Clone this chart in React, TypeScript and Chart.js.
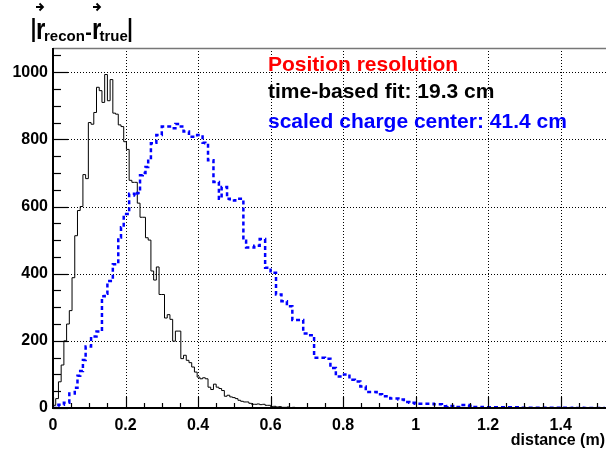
import React, { useEffect, useRef } from 'react';
import { Chart, registerables } from 'chart.js';
Chart.register(...registerables);

// ---- data ----
const BIN_WIDTH = 0.0075;
const X_MIN = 0;
const X_MAX = 1.525;
const Y_MIN = 0;
const Y_MAX = 1072;
const X_MAJOR = [0, 0.2, 0.4, 0.6, 0.8, 1.0, 1.2, 1.4];
const X_MINOR_STEP = 0.05;
const Y_MAJOR = [0, 200, 400, 600, 800, 1000];
const Y_MINOR_STEP = 50;

// time-based fit (black), counts per bin
const TIME_FIT = [
  8, 28, 78, 128, 200, 250, 290, 388, 513, 588,
  600, 695, 683, 850, 845, 880, 955, 945, 910, 993,
  915, 978, 878, 875, 843, 838, 793, 770, 678, 672,
  672, 610, 568, 568, 507, 500, 408, 381, 420, 338,
  338, 268, 278, 264, 199, 229, 229, 147, 157, 142,
  135, 122, 107, 92, 87, 90, 87, 62, 55, 71,
  62, 58, 52, 35, 38, 33, 31, 28, 23, 20,
  18, 18, 14, 11, 11, 12, 10, 11, 8, 8,
  4, 5, 3, 4, 2, 2, 3, 1, 2, 1,
  1, 0, 1, 1, 0, 0, 1, 0, 0, 0,
];

// scaled charge center (blue), counts per bin
const CHARGE_CENTER = [
  0, 5, 10, 10, 16, 16, 43, 43, 60, 96,
  110, 143, 183, 183, 213, 213, 228, 228, 333, 340,
  378, 378, 428, 428, 508, 538, 578, 578, 638, 638,
  633, 640, 693, 700, 718, 740, 788, 790, 813, 813,
  838, 838, 838, 833, 833, 846, 846, 838, 823, 823,
  808, 808, 808, 813, 813, 790, 788, 738, 738, 673,
  673, 623, 658, 658, 623, 618, 618, 623, 623, 623,
  498, 478, 478, 478, 483, 483, 503, 503, 418, 418,
  403, 403, 338, 338, 318, 318, 303, 303, 262, 262,
  262, 262, 222, 222, 217, 217, 150, 150, 150, 150,
  147, 147, 119, 119, 94, 94, 94, 100, 100, 84,
  84, 79, 79, 64, 64, 48, 48, 48, 48, 41,
  41, 35, 35, 35, 28, 28, 28, 25, 25, 18,
  18, 16, 16, 13, 13, 13, 13, 13, 13, 13,
  11, 11, 11, 5, 5, 6, 6, 6, 3, 3,
  9, 9, 9, 7, 7, 3, 3, 3, 2, 2,
  2, 2, 2, 2, 2, 2, 2, 2, 2, 2,
  2, 2, 1, 1, 1, 1, 1, 1, 1, 1,
  1, 1, 1, 1, 1, 1, 1, 0, 1, 0,
  0, 1, 0, 0, 1, 0, 0, 0, 0, 0,
  0, 0, 0,
];

const LEGEND_TITLE = 'Position resolution';
const LEGEND_TIME = 'time-based fit: 19.3 cm';
const LEGEND_CHARGE = 'scaled charge center: 41.4 cm';
const X_TITLE = 'distance (m)';

const FONT = '"Liberation Sans", Arial, Helvetica, sans-serif';

function toSteps(counts: number[]) {
  const pts = counts.map((v, i) => ({ x: i * BIN_WIDTH, y: v }));
  pts.push({ x: counts.length * BIN_WIDTH, y: 0 });
  return pts;
}

function range(min: number, max: number, step: number) {
  const out: number[] = [];
  const n = Math.round((max - min) / step);
  for (let i = 0; i <= n; i++) out.push(Math.round((min + i * step) * 1000) / 1000);
  return out;
}

const isMajor = (v: number, majors: number[]) => majors.some((m) => Math.abs(m - v) < 1e-6);

const rootPlugin = {
  id: 'rootStyle',
  beforeDatasetsDraw(chart: any) {
    const { ctx, chartArea: a, scales } = chart;
    const x = scales.x, y = scales.y;
    ctx.save();
    ctx.strokeStyle = '#000';
    ctx.lineWidth = 1;
    ctx.setLineDash([1, 2]);
    for (const v of X_MAJOR) {
      if (v <= X_MIN) continue;
      const px = Math.round(x.getPixelForValue(v)) + 0.5;
      ctx.beginPath();
      ctx.moveTo(px, a.top);
      ctx.lineTo(px, a.bottom);
      ctx.stroke();
    }
    for (const v of Y_MAJOR) {
      if (v <= Y_MIN) continue;
      const py = Math.round(y.getPixelForValue(v)) + 0.5;
      ctx.beginPath();
      ctx.moveTo(a.left, py);
      ctx.lineTo(a.right, py);
      ctx.stroke();
    }
    ctx.restore();
  },
  afterDatasetsDraw(chart: any) {
    const { ctx, chartArea: a, scales } = chart;
    const x = scales.x, y = scales.y;
    ctx.save();
    // top frame border
    ctx.strokeStyle = '#777';
    ctx.lineWidth = 1.5;
    ctx.beginPath();
    ctx.moveTo(a.left, a.top + 0.5);
    ctx.lineTo(a.right, a.top + 0.5);
    ctx.stroke();
    // ticks
    ctx.strokeStyle = '#000';
    ctx.lineWidth = 1.2;
    for (const v of range(Y_MIN, 1050, Y_MINOR_STEP)) {
      const py = Math.round(y.getPixelForValue(v)) + 0.5;
      const len = isMajor(v, Y_MAJOR) ? 15 : 8;
      ctx.beginPath();
      ctx.moveTo(a.left, py);
      ctx.lineTo(a.left + len, py);
      ctx.stroke();
    }
    for (const v of range(X_MIN, 1.5, X_MINOR_STEP)) {
      const px = Math.round(x.getPixelForValue(v)) + 0.5;
      const len = isMajor(v, X_MAJOR) ? 11 : 5;
      ctx.beginPath();
      ctx.moveTo(px, a.bottom);
      ctx.lineTo(px, a.bottom - len);
      ctx.stroke();
    }
    // axis lines
    ctx.lineWidth = 2;
    ctx.beginPath();
    ctx.moveTo(a.left, a.top);
    ctx.lineTo(a.left, a.bottom + 1);
    ctx.moveTo(a.left - 1, a.bottom);
    ctx.lineTo(a.right, a.bottom);
    ctx.stroke();
    ctx.restore();
  },
  afterDraw(chart: any) {
    const { ctx, chartArea: a } = chart;
    ctx.save();
    ctx.textBaseline = 'alphabetic';
    ctx.textAlign = 'left';
    // legend texts
    ctx.font = `bold 21px ${FONT}`;
    ctx.fillStyle = '#ff0000';
    ctx.fillText(LEGEND_TITLE, 268, 71);
    ctx.fillStyle = '#000000';
    ctx.fillText(LEGEND_TIME, 268, 98);
    ctx.fillStyle = '#0000ff';
    ctx.fillText(LEGEND_CHARGE, 268, 128);
    // x title
    ctx.fillStyle = '#000';
    ctx.textAlign = 'right';
    ctx.font = `bold 16px ${FONT}`;
    ctx.fillText(X_TITLE, a.right - 1, 445);
    // y title |r_recon - r_true|
    ctx.textAlign = 'left';
    ctx.strokeStyle = '#000';
    ctx.lineWidth = 2.5;
    ctx.beginPath();
    ctx.moveTo(33.5, 18);
    ctx.lineTo(33.5, 42);
    ctx.moveTo(130, 18);
    ctx.lineTo(130, 42);
    ctx.stroke();
    const bigR = (px: number) => {
      ctx.save();
      ctx.translate(px, 38.5);
      ctx.scale(0.8, 1);
      ctx.font = `bold 30px ${FONT}`;
      ctx.fillText('r', 0, 0);
      ctx.restore();
    };
    const arrow = (px: number) => {
      ctx.lineWidth = 1.8;
      ctx.beginPath();
      ctx.moveTo(px, 7);
      ctx.lineTo(px + 7, 7);
      ctx.moveTo(px + 3.5, 3.5);
      ctx.lineTo(px + 7, 7);
      ctx.lineTo(px + 3.5, 10.5);
      ctx.stroke();
    };
    bigR(36);
    ctx.font = `bold 15px ${FONT}`;
    ctx.fillText('recon', 44, 41);
    ctx.fillRect(86, 32.5, 5, 2.5);
    bigR(92);
    ctx.font = `bold 15px ${FONT}`;
    ctx.fillText('true', 99.5, 41);
    arrow(36);
    arrow(93);
    ctx.restore();
  },
};

export default function App() {
  const ref = useRef<HTMLCanvasElement | null>(null);
  useEffect(() => {
    document.body.style.margin = '0';
    if (!ref.current) return;
    const tickFont = { family: FONT, weight: 'bold' as const, size: 16 };
    const chart = new Chart(ref.current, {
      type: 'line',
      data: {
        datasets: [
          {
            label: LEGEND_CHARGE,
            data: toSteps(CHARGE_CENTER),
            borderColor: '#0000ff',
            borderWidth: 2.5,
            borderDash: [4, 3],
            stepped: true,
            pointRadius: 0,
            fill: false,
          },
          {
            label: LEGEND_TIME,
            data: toSteps(TIME_FIT),
            borderColor: '#000000',
            borderWidth: 1,
            stepped: true,
            pointRadius: 0,
            fill: false,
          },
        ],
      },
      options: {
        responsive: false,
        animation: false,
        devicePixelRatio: 1,
        layout: { padding: { top: 48, right: 2, left: 0, bottom: 0 } },
        plugins: { legend: { display: false }, tooltip: { enabled: false }, title: { display: false } },
        scales: {
          x: {
            type: 'linear',
            min: X_MIN,
            max: X_MAX,
            afterBuildTicks: (s: any) => {
              s.ticks = range(X_MIN, 1.5, X_MINOR_STEP).map((v) => ({ value: v }));
            },
            afterFit: (s: any) => {
              s.height = 45;
            },
            grid: { display: false, drawTicks: false },
            border: { display: false },
            ticks: {
              autoSkip: false,
              maxRotation: 0,
              padding: 8,
              color: '#000',
              font: tickFont,
              callback: (v: any) => (isMajor(Number(v), X_MAJOR) ? String(Math.round(Number(v) * 10) / 10) : ''),
            },
          },
          y: {
            type: 'linear',
            min: Y_MIN,
            max: Y_MAX,
            afterBuildTicks: (s: any) => {
              s.ticks = range(Y_MIN, 1050, Y_MINOR_STEP).map((v) => ({ value: v }));
            },
            afterFit: (s: any) => {
              s.width = 53;
            },
            grid: { display: false, drawTicks: false },
            border: { display: false },
            ticks: {
              autoSkip: false,
              padding: 5,
              color: '#000',
              font: tickFont,
              callback: (v: any) => (isMajor(Number(v), Y_MAJOR) ? String(v) : ''),
            },
          },
        },
      },
      plugins: [rootPlugin],
    } as any);
    return () => chart.destroy();
  }, []);
  return (
    <div style={{ position: 'absolute', left: 0, top: 0, width: 608, height: 453, background: '#fff' }}>
      <canvas ref={ref} width={608} height={453} style={{ width: 608, height: 453 }} />
    </div>
  );
}
